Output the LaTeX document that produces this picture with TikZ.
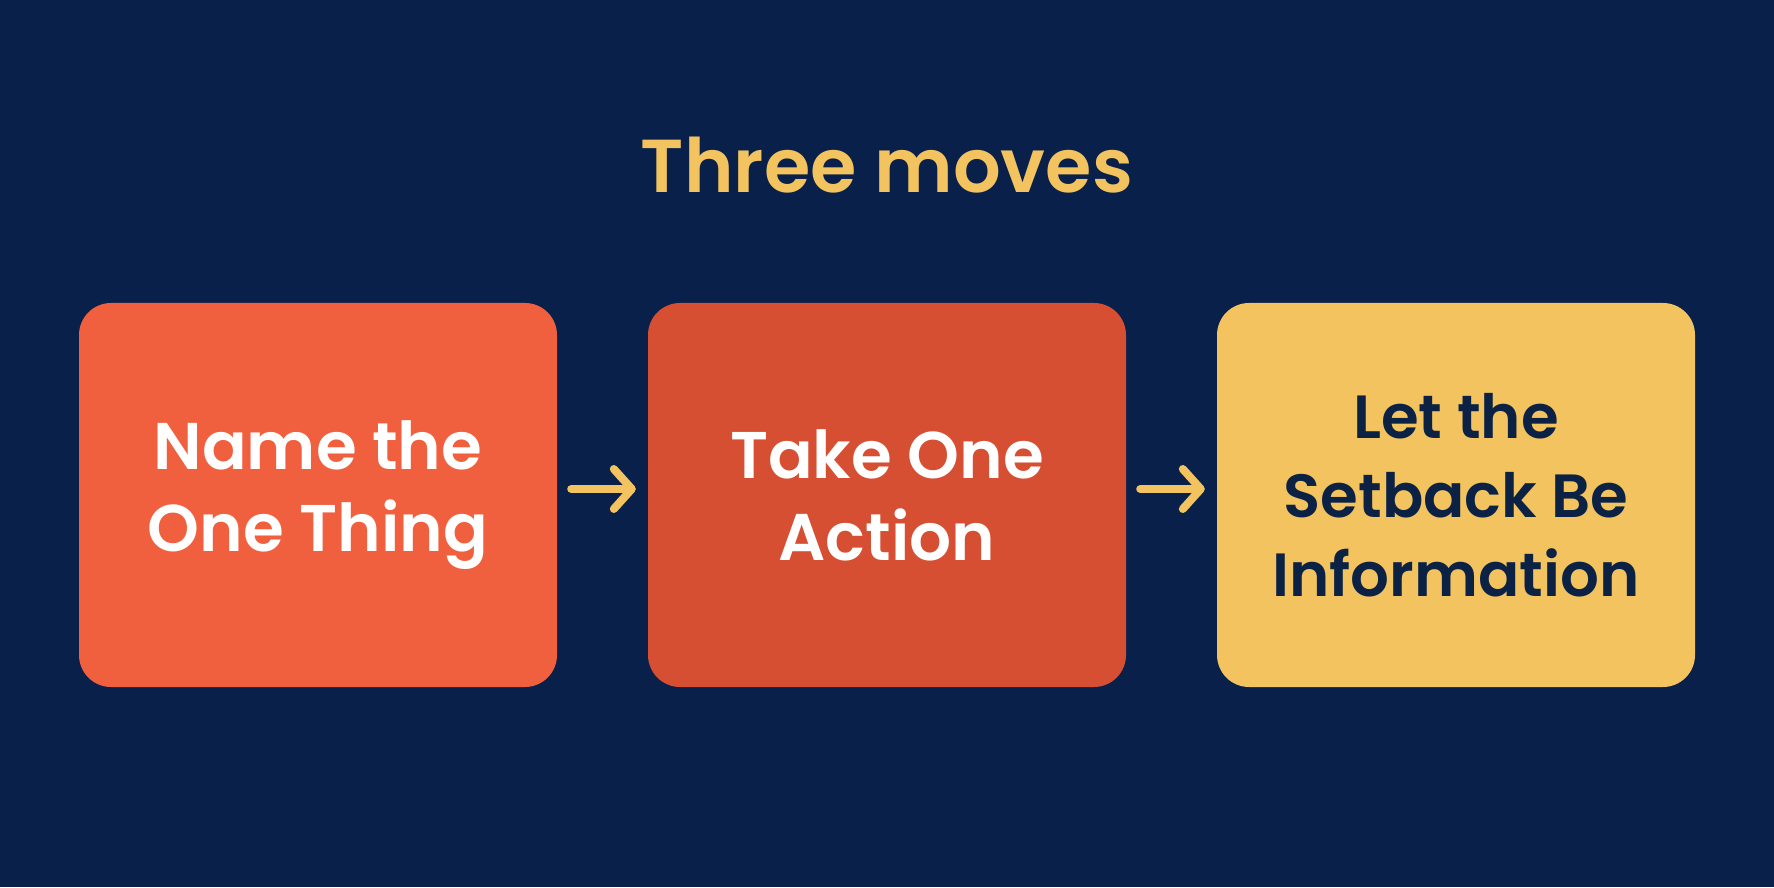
\documentclass[tikz,border=0pt]{standalone}
\usepackage{fontspec}
\setmainfont{Poppins}[BoldFont={* SemiBold}]
\usetikzlibrary{arrows.meta}
\definecolor{bgnavy}{HTML}{08204A}
\definecolor{coral}{HTML}{F0603E}
\definecolor{rust}{HTML}{D64F33}
\definecolor{gold}{HTML}{F2C35E}
\definecolor{inknavy}{HTML}{0B2245}
\tikzset{
  card/.style={rounded corners=32pt, minimum width=478pt, minimum height=384pt, inner sep=0pt, align=center, font=\fontsize{66}{82}\selectfont\bfseries},
  flow/.style={line width=8pt, line cap=round, color=gold, -{Straight Barb[length=18pt,width=40pt,round]}}
}
\begin{document}
\begin{tikzpicture}[x=1pt,y=1pt]
\fill[bgnavy] (0,0) rectangle (1774,887);
\useasboundingbox (0,0) rectangle (1774,887);
\node[font=\fontsize{75}{90}\selectfont\bfseries, text=gold, anchor=base] (title) at (887,694) {Three moves};
\node[card, fill=coral, text=white] (b1) at (318,392) {Name the\\One Thing};
\node[card, fill=rust, text=white] (b2) at (887,392) {Take One\\Action};
\node[card, fill=gold, text=inknavy, font=\fontsize{61}{79}\selectfont\bfseries] (b3) at (1456,392) {Let the\\Setback Be\\Information};
\draw[flow] ([xshift=14pt,yshift=6pt]b1.east) -- ([xshift=-12pt,yshift=6pt]b2.west);
\draw[flow] ([xshift=14pt,yshift=6pt]b2.east) -- ([xshift=-12pt,yshift=6pt]b3.west);
\end{tikzpicture}
\end{document}
